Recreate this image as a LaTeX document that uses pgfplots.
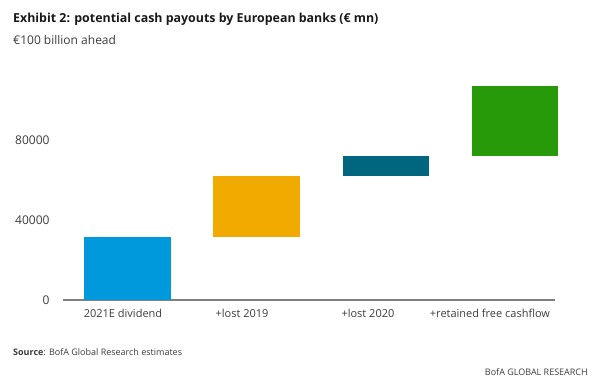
\documentclass[border=0pt]{standalone}
\usepackage{pgfplots}
\pgfplotsset{compat=1.18}
\usepackage{fontspec}
\setmainfont{Open Sans}
\definecolor{cblue}{RGB}{0,153,220}
\definecolor{corange}{RGB}{240,170,0}
\definecolor{cteal}{RGB}{0,102,128}
\definecolor{cgreen}{RGB}{38,154,8}
\definecolor{axgray}{RGB}{128,128,128}
\definecolor{txt}{RGB}{60,60,60}
\begin{document}
\begin{tikzpicture}
\path[use as bounding box] (0,0) rectangle (601pt,382pt);
\node[anchor=base west, inner sep=0pt, font=\fontsize{12.4}{14}\selectfont\bfseries, text=black!90] at (13pt,359pt) {Exhibit 2: potential cash payouts by European banks (€ mn)};
\node[anchor=base west, inner sep=0pt, font=\fontsize{12}{14}\selectfont, text=txt] at (13pt,337pt) {€100 billion ahead};
\begin{axis}[
  at={(63pt,82pt)}, anchor=south west,
  scale only axis, width=492pt, height=240pt,
  xmin=-0.5, xmax=3.314, ymin=0, ymax=120000,
  ybar stacked, bar width=86pt,
  axis x line*=bottom, axis y line*=left,
  x axis line style={draw=axgray, line width=2pt},
  y axis line style={draw=none},
  major tick length=0pt,
  xtick={-0.035,0.888,1.864,2.81},
  xticklabels={2021E dividend,+lost 2019,+lost 2020,+retained free cashflow},
  ytick={0,40000,80000},
  scaled y ticks=false,
  /pgf/number format/assume math mode=true,
  yticklabel={\pgfmathprintnumber[1000 sep={}]{\tick}},
  yticklabel style={font=\fontsize{12}{14}\selectfont, text=txt, xshift=-10pt},
  xticklabel style={font=\fontsize{11}{13}\selectfont, text=txt, yshift=-6pt},
  clip=false,
]
\addplot[draw=none, fill=none] coordinates {(0,0) (1,31500) (2,62000) (3,72000)};
\addplot[draw=none, fill=cblue] coordinates {(0,31500) (1,0) (2,0) (3,0)};
\addplot[draw=none, fill=corange] coordinates {(0,0) (1,30500) (2,0) (3,0)};
\addplot[draw=none, fill=cteal] coordinates {(0,0) (1,0) (2,10000) (3,0)};
\addplot[draw=none, fill=cgreen] coordinates {(0,0) (1,0) (2,0) (3,35000)};
\end{axis}
\node[anchor=base west, inner sep=0pt, font=\fontsize{9}{11}\selectfont, text=txt] at (13pt,26pt) {\textbf{Source}: BofA Global Research estimates};
\node[anchor=base east, inner sep=0pt, font=\fontsize{9}{11}\selectfont, text=txt] at (588pt,6pt) {BofA GLOBAL RESEARCH};
\end{tikzpicture}
\end{document}
